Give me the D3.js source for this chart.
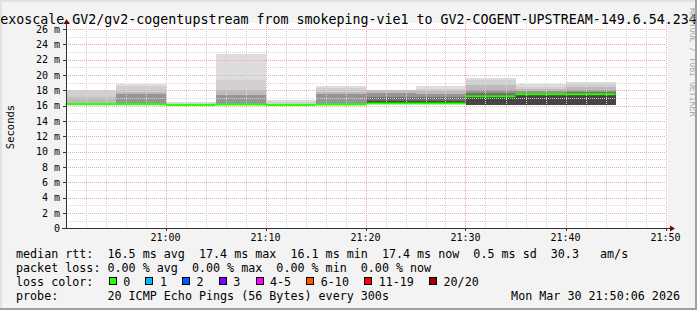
<!DOCTYPE html>
<html><head><meta charset="utf-8">
<script src="https://cdn.jsdelivr.net/npm/d3@7"></script>
<style>
html,body{margin:0;padding:0;background:#f3f3f3;}
svg{display:block;}
text{font-family:"DejaVu Sans Mono",monospace;fill:#000;}
</style></head>
<body>
<svg id="chart" width="697" height="310"></svg>
<script>
// ---- data ----
const titleText = "exoscale.GV2/gv2-cogentupstream from smokeping-vie1 to GV2-COGENT-UPSTREAM-149.6.54.234";
const stepTimes = ["20:50","20:55","21:00","21:05","21:10","21:15","21:20","21:25","21:30","21:35","21:40"];
const medianRtt = [16.2,16.2,16.1,16.15,16.1,16.15,16.3,16.3,17.25,17.5,17.5];
const smokeFloor = [16.2,16.2,16.1,16.1,16.1,16.1,16.25,16.25,16.1,16.1,16.1];
const layer1Top = [18.1,18.8,16.5,22.7,16.8,18.6,18.1,18.6,19.6,18.9,19.1];
const layer2Top = [17.9,18.6,16.4,19.3,16.5,18.3,18.1,18.2,19.3,18.5,18.8];
const layer3Top = [17.2,17.8,16.2,18.1,16.2,17.8,18.0,17.9,18.7,18.2,18.4];
const layer4Top = [16.2,17.5,16.1,17.4,16.1,17.5,17.7,17.6,18.1,17.9,18.0];
const layer5Top = [16.2,16.2,16.1,16.2,16.1,16.2,17.2,17.2,17.7,17.7,17.8];
const layer6Top = [16.2,16.2,16.1,16.15,16.1,16.15,16.6,16.6,17.4,17.6,17.6];
const layerColors = ["#dddddd","#d0d0d0","#bbbbbb","#959595","#6f6f6f","#454545"];
const yTicks = [0,2,4,6,8,10,12,14,16,18,20,22,24,26];
const xTickLabels = ["21:00","21:10","21:20","21:30","21:40","21:50"];
const lossLabels = ["0","1","2","3","4-5","6-10","11-19","20/20"];
const lossColors = ["#26ff00","#00b8ff","#0059ff","#7e00ff","#ff00ff","#ff5500","#ff0000","#a10000"];
const legendRow1 = "median rtt:  16.5 ms avg  17.4 ms max  16.1 ms min  17.4 ms now  0.5 ms sd  30.3   am/s";
const legendRow2 = "packet loss: 0.00 % avg  0.00 % max  0.00 % min  0.00 % now";
const legendRow3 = "loss color:";
const legendRow4 = "probe:       20 ICMP Echo Pings (56 Bytes) every 300s";
const stampText = "Mon Mar 30 21:50:06 2026";

// ---- setup ----
const svg = d3.select("#chart");
const W = 697, H = 310;
const parse = d3.timeParse("%Y-%m-%d %H:%M");
const day = "2026-03-30 ";
const t0 = parse(day + "20:50"), t1 = parse(day + "21:50");
const x = d3.scaleTime().domain([t0, t1]).range([65.5, 665.5]);
const y = d3.scaleLinear().domain([0, 26.8]).range([228.4, 23]);
const stepMs = 5 * 60 * 1000;

// background & border
svg.append("rect").attr("width", W).attr("height", H).attr("fill", "#f3f3f3");
svg.append("rect").attr("x",0).attr("y",0).attr("width",W).attr("height",2).attr("fill","#e2e2e2");
svg.append("rect").attr("x",0).attr("y",0).attr("width",2).attr("height",H).attr("fill","#e2e2e2");
svg.append("rect").attr("x",0).attr("y",H-2).attr("width",W).attr("height",2).attr("fill","#a0a0a0");
svg.append("rect").attr("x",W-2).attr("y",0).attr("width",2).attr("height",H).attr("fill","#a0a0a0");

// canvas
svg.append("rect").attr("x", 66).attr("y", 23).attr("width", 602).attr("height", 205.4).attr("fill", "#ffffff");

// smoke layers
const layers = [layer1Top, layer2Top, layer3Top, layer4Top, layer5Top, layer6Top];
const steps = stepTimes.map((s, i) => ({t: parse(day + s), i}));
layers.forEach((tops, li) => {
  svg.append("g").selectAll("rect").data(steps).join("rect")
    .attr("x", d => x(d.t))
    .attr("width", d => x(new Date(+d.t + stepMs)) - x(d.t))
    .attr("y", d => y(tops[d.i]))
    .attr("height", d => Math.max(0, y(smokeFloor[d.i]) - y(tops[d.i])))
    .attr("fill", layerColors[li])
    .attr("shape-rendering", "crispEdges");
});

// grid
const grid = svg.append("g").attr("shape-rendering", "crispEdges");
for (let v = 1; v <= 26; v++) {
  grid.append("line").attr("x1", 66).attr("x2", 666).attr("y1", Math.round(y(v)) + 0.5).attr("y2", Math.round(y(v)) + 0.5)
    .attr("stroke", v % 2 === 0 ? "#f0a8a8" : "#d4d4d4").attr("stroke-dasharray", "1,1");
}
const minorTimes = d3.timeMinute.every(2).range(new Date(+t0 + 60000), new Date(+t1 + 1000));
minorTimes.forEach(t => {
  const major = t.getMinutes() % 10 === 0;
  grid.append("line").attr("x1", Math.round(x(t)) + 0.5).attr("x2", Math.round(x(t)) + 0.5).attr("y1", 23).attr("y2", 228)
    .attr("stroke", major ? "#f0a8a8" : "#d4d4d4").attr("stroke-dasharray", "1,1");
});

// median line
svg.append("g").selectAll("line").data(steps).join("line")
  .attr("x1", d => x(d.t)).attr("x2", d => x(new Date(+d.t + stepMs)))
  .attr("y1", d => y(medianRtt[d.i])).attr("y2", d => y(medianRtt[d.i]))
  .attr("stroke", lossColors[0]).attr("stroke-width", 2);

// axes
const axisColor = "#333";
svg.append("line").attr("x1", 66.5).attr("x2", 66.5).attr("y1", 229).attr("y2", 24).attr("stroke", axisColor);
svg.append("line").attr("x1", 62).attr("x2", 670).attr("y1", 228.5).attr("y2", 228.5).attr("stroke", axisColor);
svg.append("path").attr("d", "M63.5,24 L69.5,24 L66.5,19 Z").attr("fill", "#800000");
svg.append("path").attr("d", "M670,225.5 L670,231.5 L675,228.5 Z").attr("fill", "#800000");

// y ticks & labels
const yAxis = svg.append("g");
yTicks.forEach(v => {
  yAxis.append("line").attr("x1", 63).attr("x2", 66).attr("y1", Math.round(y(v)) + 0.5).attr("y2", Math.round(y(v)) + 0.5).attr("stroke", axisColor);
  yAxis.append("text").attr("x", 60).attr("y", y(v) + 3.6).attr("text-anchor", "end")
    .style("font-size", "10px").text(v === 0 ? "0" : v + " m");
});
// x ticks & labels
xTickLabels.forEach(s => {
  const t = parse(day + s);
  svg.append("line").attr("x1", Math.round(x(t)) + 0.5).attr("x2", Math.round(x(t)) + 0.5).attr("y1", 228).attr("y2", 231).attr("stroke", axisColor);
  svg.append("text").attr("x", x(t)).attr("y", 240.5).attr("text-anchor", "middle").style("font-size", "10px").text(s);
});

// axis title
svg.append("text").attr("transform", "translate(14,127) rotate(-90)").attr("text-anchor", "middle")
  .style("font-size", "10.5px").text("Seconds");

// title
svg.append("text").attr("x", 348.5).attr("y", 23.5).attr("text-anchor", "middle").style("font-size", "13.3px").text(titleText);

// watermark
svg.append("text").attr("transform", "translate(690,8) rotate(90)").style("font-size", "8.2px").style("fill", "#a8a8a8")
  .text("RRDTOOL / TOBI OETIKER");

// legend
const lf = "11.7px";
const rows = [legendRow1, legendRow2, legendRow3, legendRow4];
const baselines = [257.5, 271.5, 285.5, 299.5];
rows.forEach((r, i) => {
  svg.append("text").attr("x", 16).attr("y", baselines[i]).attr("xml:space", "preserve")
    .style("white-space", "pre").style("font-size", lf).text(r);
});
// loss color boxes
let bx = 108.7;
lossLabels.forEach((lab, i) => {
  svg.append("rect").attr("x", Math.round(bx) + 0.5).attr("y", 277.5).attr("width", 7).attr("height", 7)
    .attr("fill", lossColors[i]).attr("stroke", "#000");
  svg.append("text").attr("x", bx + 14.5).attr("y", baselines[2]).style("font-size", lf).text(lab);
  bx += 36.7 + 7.05 * (lab.length - 1);
});
svg.append("text").attr("x", 680).attr("y", baselines[3]).attr("text-anchor", "end").style("font-size", lf).text(stampText);
</script>
</body></html>
